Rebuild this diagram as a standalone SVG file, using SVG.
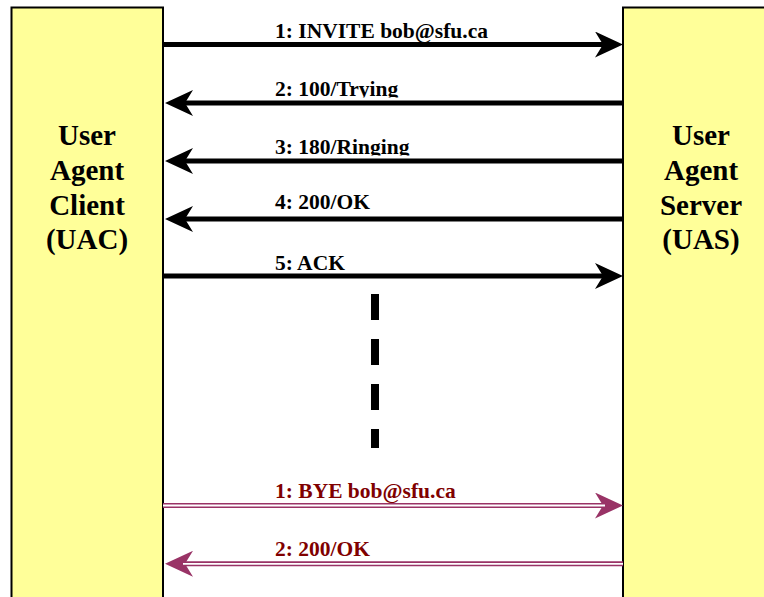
<svg xmlns="http://www.w3.org/2000/svg" width="764" height="597" viewBox="0 0 764 597">
<style>
.box{fill:#FFFF99;stroke:#000;stroke-width:2}
.title{font-family:"Liberation Serif","DejaVu Serif",serif;font-weight:bold;font-size:29px;fill:#000;text-anchor:middle}
.lbl{font-family:"Liberation Serif","DejaVu Serif",serif;font-weight:bold;font-size:21.5px;fill:#000}
.lbl2{font-family:"Liberation Serif","DejaVu Serif",serif;font-weight:bold;font-size:21.5px;fill:#800000}
.msg{stroke:#000;stroke-width:5;fill:none;marker-end:url(#ah)}
.bye{stroke:#993366;stroke-width:5;fill:none;marker-end:url(#ah2)}
.gap{stroke:#fff;stroke-width:1.8;fill:none}
.dash{stroke:#000;stroke-width:8;stroke-dasharray:26 19;fill:none}
</style>
<defs>
<marker id="ah" viewBox="0 0 28 26" refX="8" refY="13" markerWidth="28" markerHeight="26" markerUnits="userSpaceOnUse" orient="auto">
<path d="M0,0 L28,13 L0,26 L8,13 Z" fill="#000"/>
</marker>
<marker id="ah2" viewBox="0 0 28 26" refX="8" refY="13" markerWidth="28" markerHeight="26" markerUnits="userSpaceOnUse" orient="auto">
<path d="M0,0 L28,13 L0,26 L8,13 Z" fill="#993366"/>
</marker>
<clipPath id="c2"><rect x="260" y="70" width="200" height="27.5"/></clipPath>
<clipPath id="c3"><rect x="260" y="128" width="200" height="27.5"/></clipPath>
</defs>
<rect width="764" height="597" fill="#fff"/>
<g id="uac">
<rect class="box" x="11.5" y="7.5" width="151.5" height="600"/>
<text class="title" x="87" y="145">User</text>
<text class="title" x="87" y="180">Agent</text>
<text class="title" x="87" y="215">Client</text>
<text class="title" x="87" y="249">(UAC)</text>
</g>
<g id="uas">
<rect class="box" x="623" y="7.5" width="170" height="600"/>
<text class="title" x="701" y="145">User</text>
<text class="title" x="701" y="180">Agent</text>
<text class="title" x="701" y="215">Server</text>
<text class="title" x="701" y="249">(UAS)</text>
</g>
<g id="connectors">
<text class="lbl" x="275" y="37.5">1: INVITE bob@sfu.ca</text>
<path class="msg" d="M163,44.5 H603"/>
<text class="lbl" x="275" y="96" clip-path="url(#c2)">2: 100/Trying</text>
<path class="msg" d="M623,103 H185"/>
<text class="lbl" x="275" y="154" clip-path="url(#c3)">3: 180/Ringing</text>
<path class="msg" d="M623,161 H185"/>
<text class="lbl" x="275" y="209">4: 200/OK</text>
<path class="msg" d="M623,219 H185"/>
<text class="lbl" x="275" y="270">5: ACK</text>
<path class="msg" d="M163,276 H603"/>
<path class="dash" d="M375,294 V448"/>
<text class="lbl2" x="275" y="497.5">1: BYE bob@sfu.ca</text>
<path class="bye" d="M163,505.5 H603"/>
<path class="gap" d="M163,505.5 H605"/>
<text class="lbl2" x="275" y="556">2: 200/OK</text>
<path class="bye" d="M623,563.8 H185"/>
<path class="gap" d="M623,563.8 H183"/>
</g>
</svg>
